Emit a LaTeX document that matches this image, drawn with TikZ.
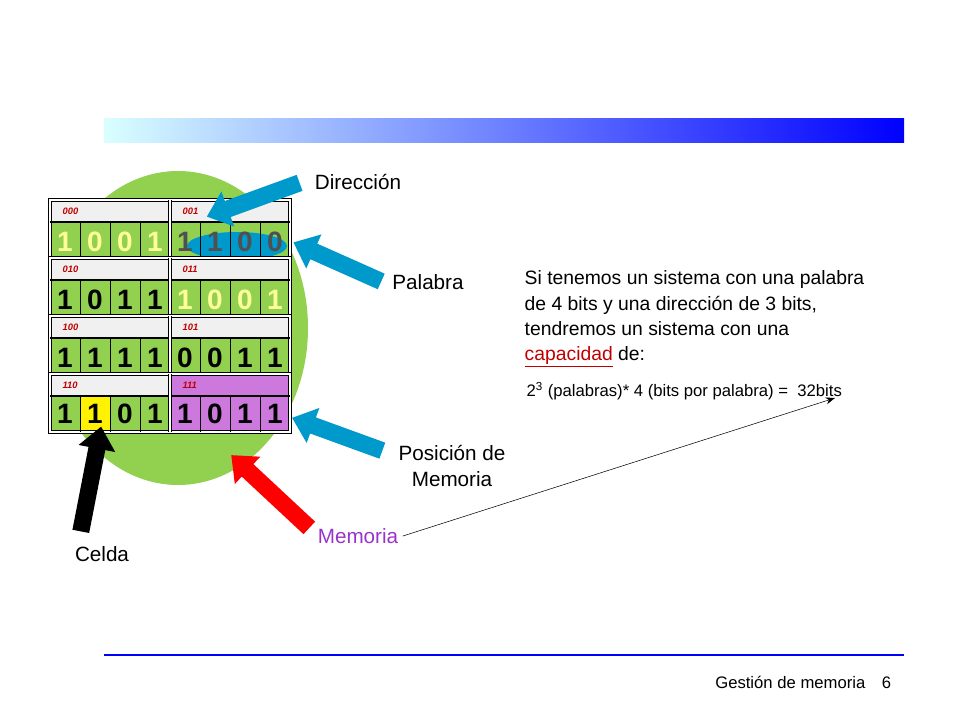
\documentclass[tikz,border=0pt]{standalone}
\usepackage{fontspec}
\setmainfont{Liberation Sans}
\usetikzlibrary{shapes.arrows,arrows.meta}
\definecolor{cellgreen}{RGB}{146,208,80}
\definecolor{headgray}{RGB}{240,240,240}
\definecolor{bitlight}{RGB}{255,255,153}
\definecolor{bitdark}{RGB}{80,80,80}
\definecolor{arrowblue}{RGB}{0,153,204}
\definecolor{memviolet}{RGB}{204,120,220}
\definecolor{labelviolet}{RGB}{153,51,204}
\definecolor{addrred}{RGB}{192,0,0}
\tikzset{
  bigarrow/.style={single arrow, draw=none, minimum height=#1, minimum width=28pt,
    single arrow head extend=5pt, single arrow tip angle=80, inner sep=4pt},
  label/.style={font=\fontsize{15.5}{19}\selectfont, align=center},
  addr/.style={font=\fontsize{7}{8}\selectfont\bfseries\itshape, text=addrred, anchor=west},
  bit/.style={font=\fontsize{21}{22}\selectfont\bfseries}
}
\begin{document}
\begin{tikzpicture}[x=0.75pt,y=-0.75pt]
  \useasboundingbox (0,0) rectangle (960,720);

  % ***************** HEADER / FOOTER *****************
  \shade[left color=cyan!15, right color=blue] (104,119) rectangle (904,143);
  \draw[blue, line width=2.2pt] (104,655) -- (904,655);
  \node[anchor=east, font=\fontsize{12.5}{14}\selectfont] (foot) at (896,682) {Gestión de memoria\quad 6};

  % ***************** MEMORY *****************
  \fill[cellgreen] (178,328) ellipse (130 and 157);

  % address headers and word rows
  \foreach \r in {0,...,3} {
    \fill[headgray] (50,200+58*\r) rectangle (290,222+58*\r);
    \fill[cellgreen] (50,222+58*\r) rectangle (290,258+58*\r);
  }
  \fill[memviolet] (170,374) rectangle (290,432);
  \fill[yellow] (80,396) rectangle (110,432);
  \foreach \r/\la/\lb in {0/000/001, 1/010/011, 2/100/101, 3/110/111} {
    \node[addr] at (58,211+58*\r) {\la};
    \node[addr] at (178,211+58*\r) {\lb};
  }

  % blue mark over word 001
  \fill[arrowblue] (237,246) ellipse (50 and 14);

  % grid
  \foreach \r in {0,...,3} {
    \draw[double, double distance=1pt, line width=1pt] (50,200+58*\r) rectangle (290,258+58*\r);
    \draw[thick] (50,222+58*\r) -- (290,222+58*\r);
    \draw[double, double distance=1pt, line width=1pt] (170,200+58*\r) -- (170,258+58*\r);
    \foreach \c in {1,2,3,5,6,7}
      \draw (50+30*\c,222+58*\r) -- (50+30*\c,258+58*\r);
  }

  % bits
  \foreach \b [count=\i from 0] in {1,0,0,1}
    \node[bit, text=bitlight] at (65+30*\i,242) {\b};
  \foreach \b [count=\i from 4] in {1,1,0,0}
    \node[bit, text=bitdark] at (65+30*\i,242) {\b};
  \foreach \b [count=\i from 0] in {1,0,1,1}
    \node[bit] at (65+30*\i,300) {\b};
  \foreach \b [count=\i from 4] in {1,0,0,1}
    \node[bit, text=bitlight] at (65+30*\i,300) {\b};
  \foreach \b [count=\i from 0] in {1,1,1,1,0,0,1,1}
    \node[bit] at (65+30*\i,358) {\b};
  \foreach \b [count=\i from 0] in {1,1,0,1,1,0,1,1}
    \node[bit] at (65+30*\i,414) {\b};

  % ***************** LABELS *****************
  \node[label] (dir) at (358,182) {Dirección};
  \node[label] (pal) at (428,282) {Palabra};
  \node[label] (pos) at (452,466) {Posición de\\Memoria};
  \node[label, text=labelviolet] (mem) at (358,536) {Memoria};
  \node[label] (cel) at (102,554) {Celda};

  % block arrows
  \node[bigarrow=74pt, fill=arrowblue, rotate=200] at (258,198) {};
  \node[bigarrow=72pt, fill=arrowblue, rotate=156] at (342,264) {};
  \node[bigarrow=72pt, fill=arrowblue, rotate=160] at (342,436) {};
  \node[bigarrow=80pt, fill=red, rotate=137] at (274,495) {};
  \node[bigarrow=80pt, fill=black, rotate=79] at (90,484) {};

  % ***************** TEXT *****************
  \node[anchor=north west, align=left, font=\fontsize{14.5}{19}\selectfont] (txt) at (520,266)
    {Si tenemos un sistema con una palabra\\de 4 bits y una dirección de 3 bits,\\tendremos un sistema con una\\
     \textcolor{addrred}{\underline{capacidad}} de:};
  \node[anchor=west, font=\fontsize{12.5}{14}\selectfont] (calc) at (522,391)
    {2\textsuperscript{3} (palabras)* 4 (bits por palabra) = \ 32bits};
  \coordinate (calcend) at (835,398);
  \draw[-{Stealth[length=7pt]}, thin] (mem.east) -- (calcend);
\end{tikzpicture}
\end{document}
